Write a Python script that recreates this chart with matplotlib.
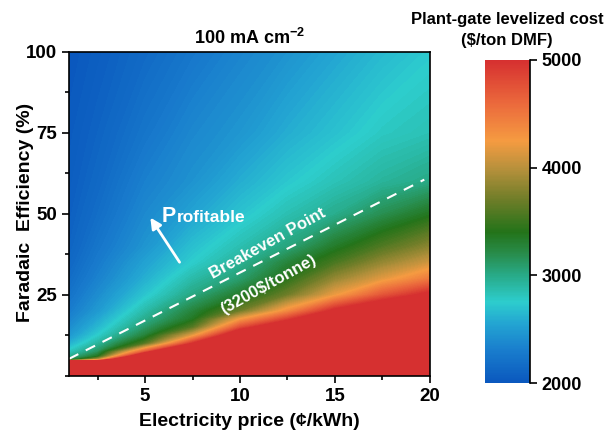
import numpy as np
import matplotlib
matplotlib.use('Agg')
import matplotlib.pyplot as plt
from matplotlib.colors import LinearSegmentedColormap, Normalize
from matplotlib.ticker import MultipleLocator

plt.rcParams['font.family'] = ['Liberation Sans', 'DejaVu Sans']
plt.rcParams['font.weight'] = 'bold'
plt.rcParams['mathtext.fontset'] = 'custom'
plt.rcParams['mathtext.rm'] = 'Liberation Sans:bold'
plt.rcParams['mathtext.bf'] = 'Liberation Sans:bold'
plt.rcParams['mathtext.default'] = 'bf'

# grid: electricity price (c/kWh) x faradaic efficiency (%)
price = [1, 2.5, 5, 7.5, 10, 12.5, 15, 17.5, 20]
fe = [0, 4.5, 5, 6, 7.5, 10, 12.5, 15, 17.5, 20, 25, 30, 35, 40, 50, 60, 75, 100]

# levelized cost ($/ton DMF) per price column, one value per fe row
cost_p1 = [9000, 6000, 3200, 2970, 2800, 2600, 2470, 2400, 2340, 2290, 2220, 2170, 2130, 2100, 2070, 2050, 2030, 2000]
cost_p2_5 = [9000, 6500, 4030, 3370, 3130, 2920, 2750, 2640, 2560, 2480, 2400, 2330, 2280, 2240, 2180, 2140, 2100, 2050]
cost_p5 = [9000, 8500, 7500, 5800, 4710, 3590, 3270, 3100, 2980, 2880, 2710, 2600, 2530, 2450, 2380, 2320, 2240, 2150]
cost_p7_5 = [9000, 9000, 9000, 8000, 6700, 5000, 4170, 3600, 3360, 3260, 3020, 2880, 2750, 2680, 2540, 2440, 2370, 2250]
cost_p10 = [9000, 9000, 9000, 9000, 8000, 6500, 5500, 4790, 4250, 3700, 3330, 3080, 2950, 2850, 2700, 2590, 2460, 2350]
cost_p12_5 = [9000, 9000, 9000, 9000, 9000, 7500, 6300, 5500, 4900, 4360, 3700, 3430, 3260, 3035, 2850, 2720, 2590, 2440]
cost_p15 = [9000, 9000, 9000, 9000, 9000, 9000, 7400, 6400, 5600, 5100, 4210, 3850, 3550, 3330, 2980, 2830, 2690, 2550]
cost_p17_5 = [9000, 9000, 9000, 9000, 9000, 9000, 8000, 7000, 6200, 5500, 4730, 4160, 3850, 3580, 3180, 2930, 2790, 2650]
cost_p20 = [9000, 9000, 9000, 9000, 9000, 9000, 9000, 7800, 6800, 6000, 5100, 4480, 4090, 3810, 3370, 3010, 2840, 2730]

# breakeven line (3200 $/tonne)
breakeven_price = [1.0, 19.7]
breakeven_fe = [5.3, 60.6]

cbar_ticks = [2000, 3000, 4000, 5000]

# colour scale as seen on the colour bar
cmap = LinearSegmentedColormap.from_list('cost', [
    (0.000, '#0A58BE'),
    (0.100, '#197DCD'),
    (0.183, '#23A5D2'),
    (0.250, '#2DCDCD'),
    (0.333, '#28AA87'),
    (0.400, '#288C4B'),
    (0.467, '#237319'),
    (0.567, '#6E7D28'),
    (0.667, '#B9913C'),
    (0.750, '#F59B41'),
    (0.867, '#EB693C'),
    (1.000, '#D63030'),
])
cmap.set_over('#D63030')
cmap.set_under('#0A58BE')
norm = Normalize(2000, 5000)

cost = np.column_stack([cost_p1, cost_p2_5, cost_p5, cost_p7_5, cost_p10,
                        cost_p12_5, cost_p15, cost_p17_5, cost_p20])
P, F = np.meshgrid(price, fe)

fig = plt.figure(figsize=(6.14, 4.30), dpi=100)
ax = fig.add_axes([0.1124, 0.1256, 0.5879, 0.7535])

ax.contourf(P, F, cost, levels=np.linspace(2000, 5000, 151), cmap=cmap, norm=norm, extend='both')

ax.plot(breakeven_price, breakeven_fe, color='white', lw=1.5, dashes=(5, 4))

ax.set_xlim(1, 20)
ax.set_ylim(0, 100)
ax.xaxis.set_major_locator(MultipleLocator(5))
ax.xaxis.set_minor_locator(MultipleLocator(2.5))
ax.set_yticks([25, 50, 75, 100])
ax.yaxis.set_minor_locator(MultipleLocator(12.5))
ax.tick_params(which='major', direction='out', length=5, width=1.2, labelsize=13.5)
ax.tick_params(which='minor', direction='out', length=3, width=1.2)
for s in ax.spines.values():
    s.set_linewidth(1.2)

ax.set_xlabel('Electricity price (\u00a2/kWh)', fontsize=14, fontweight='bold', labelpad=6)
ax.set_ylabel('Faradaic  Efficiency (%)', fontsize=14, fontweight='bold')
ax.yaxis.set_label_coords(-0.098, 0.506)
ax.set_title(r'100 mA cm$^{-2}$', fontsize=13, fontweight='bold', pad=6)

# annotations
ax.annotate('', xy=(5.2, 49.6), xytext=(6.9, 34.4),
            arrowprops=dict(arrowstyle='-|>', color='white', lw=2, mutation_scale=16))
ax.text(5.9, 47.6, 'P', color='white', fontsize=15.5, fontweight='bold')
ax.text(6.7, 47.6, 'rofitable', color='white', fontsize=12.5, fontweight='bold')
ax.text(11.45, 40.8, 'Breakeven Point', color='white', fontsize=12, fontweight='bold',
        rotation=29, ha='center', va='center', rotation_mode='anchor')
ax.text(11.5, 28.2, '(3200$/tonne)', color='white', fontsize=12, fontweight='bold',
        rotation=29, ha='center', va='center', rotation_mode='anchor')

# colour bar
cax = fig.add_axes([0.790, 0.1093, 0.073, 0.7512])
sm = plt.cm.ScalarMappable(norm=norm, cmap=cmap)
cb = fig.colorbar(sm, cax=cax, ticks=cbar_ticks)
cb.outline.set_visible(False)
cax.spines['right'].set_visible(True)
cax.spines['right'].set_linewidth(1.2)
cax.tick_params(direction='out', length=5, width=1.2, labelsize=13)
for t in cax.get_yticklabels():
    t.set_fontweight('bold')
fig.text(0.826, 0.955, 'Plant-gate levelized cost', ha='center', va='center',
         fontsize=12, fontweight='bold')
fig.text(0.826, 0.905, '($/ton DMF)', ha='center', va='center',
         fontsize=12, fontweight='bold')

fig.savefig('out.png', dpi=100)
